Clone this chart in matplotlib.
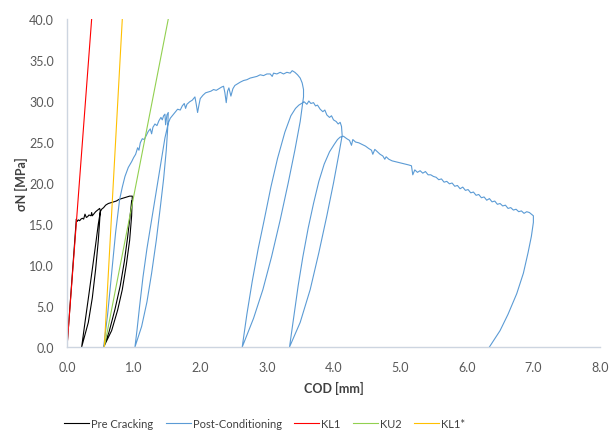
import matplotlib
matplotlib.use("Agg")
import matplotlib.pyplot as plt
import numpy as np

plt.rcParams['font.family'] = ['Lato', 'DejaVu Sans']

# pre cracking test (COD [mm], sigma_N [MPa])
pre_cod = [0.0, 0.14, 0.15, 0.17, 0.19, 0.21, 0.23, 0.25, 0.27, 0.29, 0.31, 0.33, 0.36, 0.37,
           0.38, 0.40, 0.43, 0.46, 0.49, 0.50,
           0.47, 0.43, 0.38, 0.32, 0.22,
           0.27, 0.33, 0.38, 0.43, 0.47, 0.50, 0.52, 0.55, 0.58, 0.62, 0.66, 0.70, 0.74,
           0.78, 0.82, 0.86, 0.90, 0.94, 0.98,
           0.97, 0.94, 0.89, 0.83, 0.76, 0.67, 0.55,
           0.63, 0.72, 0.80, 0.86, 0.91, 0.95, 0.97]
pre_sig = [0.0, 15.6, 15.3, 15.5, 15.4, 15.6, 15.7, 15.6, 16.2, 15.8, 15.9, 16.1, 16.0, 16.4,
           16.0, 16.2, 16.5, 16.7, 16.9, 16.6,
           13.0, 9.5, 6.0, 3.0, 0.0,
           3.0, 6.5, 9.5, 12.5, 15.0, 16.5, 16.8, 17.0, 17.3, 17.5, 17.6, 17.7, 17.8,
           18.0, 18.1, 18.2, 18.3, 18.4, 18.4,
           16.0, 13.0, 10.0, 7.0, 4.5, 2.0, 0.0,
           1.8, 4.6, 7.5, 10.4, 13.4, 16.2, 17.8]

# post conditioning test with unload/reload cycles
post_cod = [0.55, 0.58, 0.61, 0.64, 0.67, 0.70, 0.73, 0.76, 0.79, 0.83, 0.87, 0.92, 0.97, 1.00,
            1.03, 1.06, 1.08, 1.10, 1.13, 1.16, 1.19, 1.22, 1.25, 1.27, 1.29, 1.32, 1.35, 1.38,
            1.41, 1.43, 1.45, 1.47, 1.48, 1.50, 1.52,
            1.51, 1.49, 1.45, 1.40, 1.34, 1.27, 1.20, 1.12, 1.02,
            1.05, 1.09, 1.14, 1.20, 1.27, 1.34, 1.41, 1.47, 1.52, 1.55,
            1.58, 1.62, 1.66, 1.70, 1.73, 1.76, 1.78, 1.80, 1.84, 1.88, 1.92, 1.94, 1.96, 1.98,
            2.00, 2.04, 2.08, 2.12, 2.16, 2.20, 2.24, 2.28, 2.32, 2.35, 2.37, 2.39, 2.41, 2.43,
            2.46, 2.49, 2.52, 2.56, 2.60, 2.65, 2.70, 2.75, 2.80, 2.85, 2.90, 2.95, 3.00, 3.05,
            3.08, 3.10, 3.15, 3.20, 3.25, 3.30, 3.35, 3.38, 3.42, 3.46, 3.50, 3.53, 3.55, 3.55,
            3.50, 3.42, 3.32, 3.20, 3.07, 2.94, 2.80, 2.63,
            2.70, 2.78, 2.87, 2.96, 3.06, 3.16, 3.27, 3.36, 3.43, 3.48,
            3.52, 3.56, 3.60, 3.63, 3.66, 3.70, 3.73, 3.76, 3.80, 3.84, 3.87, 3.90, 3.94, 3.97,
            4.00, 4.04, 4.07, 4.10, 4.12, 4.13,
            4.08, 4.00, 3.90, 3.78, 3.65, 3.50, 3.34,
            3.40, 3.47, 3.54, 3.62, 3.70, 3.78, 3.86, 3.94, 4.01, 4.06, 4.10,
            4.15, 4.20, 4.24, 4.27, 4.29, 4.33, 4.38, 4.43, 4.48, 4.53, 4.57, 4.59, 4.62, 4.66,
            4.70, 4.74, 4.77, 4.79, 4.83, 4.88, 4.93, 4.98, 5.03, 5.08, 5.13, 5.17, 5.19, 5.22,
            5.26, 5.30, 5.34, 5.38, 5.42, 5.46, 5.50, 5.54, 5.58, 5.62, 5.66, 5.70, 5.74, 5.78,
            5.82, 5.86, 5.90, 5.94, 5.98, 6.02, 6.06, 6.10, 6.14, 6.18, 6.22, 6.26, 6.30, 6.34,
            6.38, 6.42, 6.46, 6.50, 6.54, 6.58, 6.62, 6.66, 6.70, 6.74, 6.78, 6.82, 6.86, 6.90,
            6.94, 6.97, 7.00, 7.00,
            6.97, 6.92, 6.85, 6.75, 6.62, 6.50, 6.34]
post_sig = [0.0, 2.0, 4.0, 6.5, 9.0, 11.5, 14.0, 16.0, 18.0, 19.5, 20.8, 21.9, 22.6, 23.1,
            23.5, 24.3, 24.0, 24.9, 25.4, 25.3, 25.8, 26.3, 26.6, 26.0, 26.8, 27.2, 27.0, 27.6,
            28.0, 27.7, 28.2, 28.4, 27.1, 28.3, 28.6,
            26.5, 24.0, 20.5, 17.0, 13.0, 9.0, 5.5, 2.5, 0.0,
            2.0, 5.0, 8.5, 12.0, 15.5, 19.0, 22.5, 25.5, 27.3, 27.9,
            28.2, 28.6, 29.0, 28.9, 29.4, 29.7, 29.1, 29.6, 29.9, 30.1, 30.5, 29.6, 28.6, 29.5,
            30.3, 30.7, 31.0, 31.1, 31.2, 31.4, 31.3, 31.5, 31.7, 31.8, 31.0, 29.8, 31.2, 31.6,
            30.6, 31.5, 31.9, 32.1, 32.3, 32.5, 32.6, 32.8, 32.9, 33.0, 33.2, 33.1, 33.3, 33.3,
            33.0, 33.4, 33.3, 33.5, 33.3, 33.5, 33.4, 33.7, 33.5, 33.2, 32.8, 32.2, 31.4, 30.5,
            27.5, 24.0, 20.0, 15.5, 11.0, 7.0, 3.5, 0.0,
            4.0, 8.0, 12.0, 15.5, 19.5, 23.0, 26.2, 28.2, 29.1, 29.5,
            29.7, 29.9, 29.6, 30.0, 29.7, 29.8, 29.4, 29.5, 29.0, 28.7, 28.9, 28.3, 28.0, 28.2,
            27.7, 27.5, 27.2, 27.4, 26.9, 25.8,
            23.5, 20.0, 16.0, 11.5, 7.0, 3.0, 0.0,
            3.5, 7.5, 11.0, 14.5, 17.5, 20.2, 22.3, 23.8, 24.7, 25.3, 25.6,
            25.7, 25.4, 25.2, 24.6, 25.3, 25.0, 24.9, 24.7, 24.5, 24.2, 24.0, 23.5, 24.1, 23.8,
            23.5, 23.3, 22.9, 23.2, 22.9, 22.7, 22.6, 22.5, 22.4, 22.3, 22.2, 22.1, 21.0, 21.6,
            21.3, 21.5, 21.2, 21.4, 21.0, 21.0, 20.8, 20.7, 20.4, 20.5, 20.1, 20.2, 19.9, 20.0,
            19.6, 19.7, 19.3, 19.5, 19.1, 19.2, 18.8, 18.9, 18.5, 18.6, 18.2, 18.3, 17.9, 18.1,
            17.7, 17.8, 17.4, 17.5, 17.2, 17.3, 16.9, 17.0, 16.7, 16.8, 16.5, 16.6, 16.3, 16.5,
            16.4, 16.2, 16.0, 15.2,
            13.5, 11.5, 9.0, 6.5, 4.0, 2.0, 0.0]

# stiffness lines
kl1_cod = [0.0, 0.37]
kl1_sig = [0.0, 40.0]
ku2_cod = [0.56, 1.52]
ku2_sig = [0.0, 40.0]
kl1s_cod = [0.56, 0.83]
kl1s_sig = [0.0, 40.0]

fig = plt.figure(figsize=(6.13, 4.39), dpi=100)
ax = fig.add_axes([0.1093, 0.2073, 0.8695, 0.7471])

lw = 0.8
ax.plot(pre_cod, pre_sig, color='black', lw=lw, label='Pre Cracking')
ax.plot(post_cod, post_sig, color='#5B9BD5', lw=lw, label='Post-Conditioning')
ax.plot(kl1_cod, kl1_sig, color='#FF0000', lw=lw, label='KL1')
ax.plot(ku2_cod, ku2_sig, color='#92D050', lw=lw, label='KU2')
ax.plot(kl1s_cod, kl1s_sig, color='#FFC000', lw=lw, label='KL1*')

ax.set_xlim(0, 8)
ax.set_ylim(0, 40)
ax.set_xticks(np.arange(0, 9, 1))
ax.set_yticks(np.arange(0, 45, 5))
ax.xaxis.set_major_formatter(matplotlib.ticker.FormatStrFormatter('%.1f'))
ax.yaxis.set_major_formatter(matplotlib.ticker.FormatStrFormatter('%.1f'))
ax.tick_params(length=0, labelsize=9, labelcolor='#595959')
ax.tick_params(axis='x', pad=10)
ax.tick_params(axis='y', pad=9.5)

for s in ['top', 'right']:
    ax.spines[s].set_visible(False)
for s in ['left', 'bottom']:
    ax.spines[s].set_color('#CDD5E0')
    ax.spines[s].set_linewidth(1.0)

ax.set_xlabel('COD [mm]', fontsize=9, fontweight='bold', color='#404040', labelpad=6)
ax.set_ylabel('σN [MPa]', fontsize=9, fontweight='bold', color='#404040', labelpad=1)

fig.legend(loc='lower center', bbox_to_anchor=(0.432, -0.003), ncol=5, frameon=False,
           fontsize=8, handlelength=2.25, columnspacing=1.1, handletextpad=0.2,
           labelcolor='#404040')

fig.savefig('out.png', dpi=100)
